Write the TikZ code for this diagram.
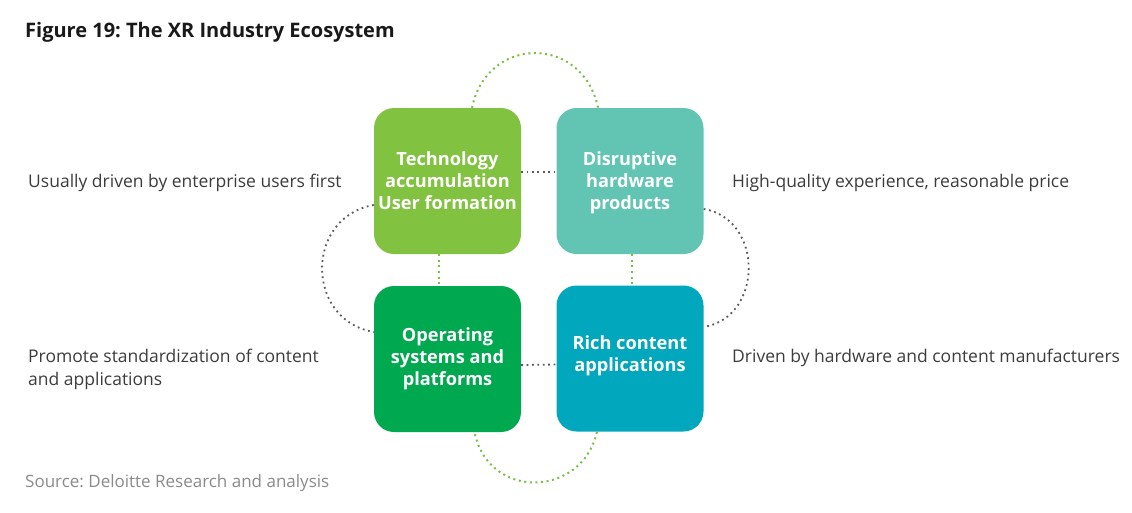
\documentclass[tikz,border=0pt]{standalone}
\usepackage{fontspec}
\setmainfont{Open Sans}
\frenchspacing
\usetikzlibrary{calc}
\definecolor{cTL}{HTML}{82C241}
\definecolor{cTR}{HTML}{62C5B4}
\definecolor{cBL}{HTML}{00A84F}
\definecolor{cBR}{HTML}{00A7BD}
\definecolor{dotgreen}{HTML}{7DBE48}
\definecolor{dotgray}{HTML}{5A5A5A}
\definecolor{labelgray}{HTML}{3C3C3C}
\definecolor{srcgray}{HTML}{8A8A8A}
\begin{document}
\begin{tikzpicture}[x=1pt,y=-1pt,
  box/.style={rectangle, rounded corners=20pt, minimum width=147pt, minimum height=146pt,
    inner sep=0pt},
  boxtext/.style={text=white, align=center, inner sep=0pt,
    font=\bfseries\fontsize{18.2}{22}\selectfont},
  side/.style={anchor=west, inner sep=0pt, align=left, text=labelgray,
    font=\fontsize{17.5}{22.5}\selectfont},
  greendots/.style={draw=dotgreen, line width=2pt, dash pattern=on 2pt off 3.6pt},
  graydots/.style={draw=dotgray, line width=1.8pt, dash pattern=on 1.8pt off 3.6pt}]
\useasboundingbox (0,0) rectangle (1132,512);

% title and source
\node[anchor=west, inner sep=0pt, font=\bfseries\fontsize{20}{23}\selectfont, text=black!90] (title) at (25,32) {Figure 19: The XR Industry Ecosystem};
\node[anchor=west, inner sep=0pt, font=\fontsize{17}{20}\selectfont, text=srcgray] (source) at (25,483) {Source: Deloitte Research and analysis};

% the four quadrants
\node[box, fill=cTL, label={[boxtext]center:{Technology\\accumulation\\User formation}}] (tl) at (447.5,181) {};
\node[box, fill=cTR, label={[boxtext, yshift=-2pt]center:{Disruptive\\hardware\\products}}] (tr) at (630,181) {};
\node[box, fill=cBL, label={[boxtext]center:{Operating\\systems and\\platforms}}] (bl) at (447.5,359) {};
\node[box, fill=cBR, label={[boxtext, yshift=3pt]center:{Rich content\\applications}}] (br) at (630,358.5) {};

% side descriptions
\node[side] (ltop) at (28,183) {Usually driven by enterprise users first};
\node[side] (rtop) at (732,183) {High-quality experience, reasonable price};
\node[side] (lbot) at (28,369.5) {Promote standardization of content\\and applications};
\node[side] (rbot) at (732,358) {Driven by hardware and content manufacturers};

% straight links between neighbouring boxes
\draw[graydots] ([yshift=9pt]tl.east) -- ([yshift=9pt]tr.west);
\draw[graydots] ([yshift=-6pt]bl.east) -- ([yshift=-6pt]br.west);
\draw[greendots] ([xshift=-9pt]tl.south) -- ([xshift=-9pt]bl.north);
\draw[greendots] ([xshift=2pt]tr.south) -- ([xshift=2pt]br.north);

% outer loops
\draw[greendots] ($(tl.north)+(24.5,0)$) .. controls +(15,-73) and +(-15,-73) .. ($(tr.north)+(-32,0)$);
\draw[greendots] ($(bl.south)+(27.5,2)$) .. controls +(15,66) and +(-15,66) .. ($(br.south)+(-33,0)$);
\draw[graydots] ($(tl.west)+(0,24)$) .. controls +(-69,12) and +(-69,-12) .. ($(bl.west)+(0,-27)$);
\draw[graydots] ($(tr.east)+(0,28)$) .. controls +(60,10) and +(60,-10) .. ($(br.east)+(0,-31.5)$);
\end{tikzpicture}
\end{document}
